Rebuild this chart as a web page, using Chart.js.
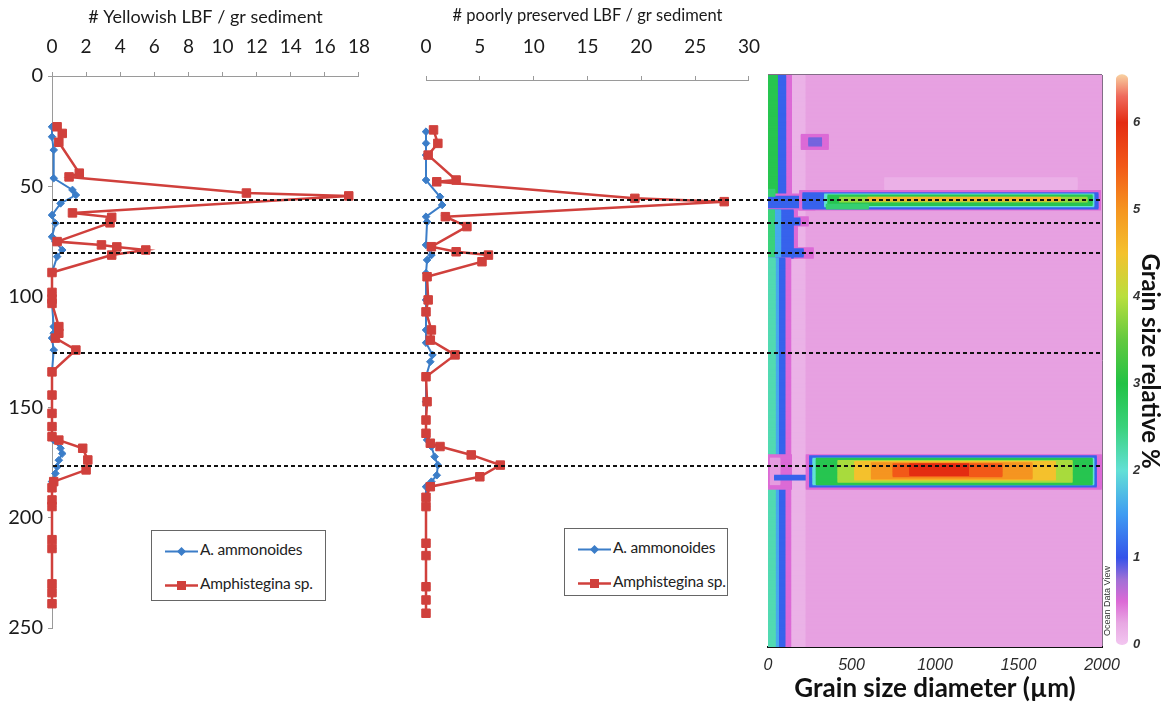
<!DOCTYPE html>
<html>
<head>
<meta charset="utf-8">
<script src="https://cdn.jsdelivr.net/npm/chart.js@4.4.1/dist/chart.umd.min.js"></script>
<style>
  html, body { margin: 0; padding: 0; background: #fff; }
  #page { position: relative; width: 1168px; height: 704px; overflow: hidden; background: #fff;
          font-family: Lato, "Liberation Sans", Arial, sans-serif; }
  #page canvas { position: absolute; top: 0; }
  .legend { position: absolute; border: 1px solid #666; background: #fff; color: #222; font-size: 15.5px; letter-spacing: -0.2px; }
  .legend .row { position: absolute; left: 13px; height: 24px; line-height: 24px; white-space: nowrap; }
  .legend svg { vertical-align: middle; margin-right: 2px; }
  #odv { position: absolute; left: 1067px; top: 596px; width: 80px; text-align: center; font: 9px "Liberation Sans", Arial, sans-serif;
         color: #333; transform: rotate(-90deg); }
</style>
</head>
<body>
<div id="page">
  <canvas id="yellowChart" width="384" height="704" style="left:0px"></canvas>
  <canvas id="poorChart" width="398" height="704" style="left:380px"></canvas>
  <canvas id="grainChart" width="428" height="704" style="left:740px"></canvas>
  <canvas id="scaleChart" width="68" height="704" style="left:1100px"></canvas>
  <canvas id="eventChart" width="1168" height="704" style="left:0px; pointer-events:none"></canvas>
  <div class="legend" id="yellowLegend" style="left:151px; top:530px; width:173px; height:69px;"></div>
  <div class="legend" id="poorLegend" style="left:564px; top:528px; width:162px; height:66px;"></div>
  <div id="odv">Ocean Data View</div>
</div>
<script>
// ---- # Yellowish LBF / gr sediment (left panel) ----
const yellowAmmDepth = [23, 27.5, 33.5, 46.3, 51.6, 53.9, 57.7, 63, 66.7, 72.8, 75, 78.8, 81.8, 89, 98, 101, 103, 113.5, 116.5, 118.7, 124.1, 134, 144.5, 152.8, 158.8, 163.4, 164.9, 168.6, 171, 174, 177, 180, 183.7, 186.5, 192, 195, 210, 214, 230, 234, 239];
const yellowAmmValue = [0, 0, 0.1, 0.1, 1.2, 1.4, 0.5, 0, 0.2, 0, 0.2, 0.6, 0.3, 0, 0, 0, 0, 0.1, 0.1, 0, 0.1, 0, 0, 0, 0, 0, 0.1, 0.5, 0.6, 0.4, 0.3, 0.2, 0, 0, 0, 0, 0, 0, 0, 0, 0];
const yellowAmphDepth = [23, 26, 30, 44, 45.7, 53, 54.3, 62, 64, 66.5, 75, 76.5, 77.4, 78.8, 81.1, 89, 98, 101, 103, 113.5, 116.5, 118.7, 124.1, 134, 144.5, 152.8, 158.8, 163.4, 164.9, 168.6, 173.9, 178.4, 183.7, 186.5, 192, 195, 210, 214, 230, 234, 239];
const yellowAmphValue = [0.3, 0.6, 0.4, 1.6, 1.0, 11.4, 17.4, 1.2, 3.5, 3.4, 0.3, 2.9, 3.8, 5.5, 3.5, 0, 0, 0, 0, 0.4, 0.4, 0.2, 1.4, 0, 0, 0, 0, 0, 0.4, 1.8, 2.1, 2.0, 0.1, 0, 0, 0, 0, 0, 0, 0, 0];

// ---- # poorly preserved LBF / gr sediment (middle panel) ----
const poorAmmDepth = [23.4, 28.7, 34, 45.3, 52.9, 56.6, 61.9, 64.2, 74.7, 79.3, 81.5, 87.5, 99.6, 105, 113.2, 119, 124.5, 127.6, 134.4, 145.7, 154, 160, 163, 166, 170.6, 174.4, 179, 181.9, 184.2, 189, 193.2, 209.8, 215.4, 229.5, 235.5, 241.5];
const poorAmmValue = [0, 0, 0, 0, 1.3, 1.5, 0, 0.1, 0, 0.5, 0.1, 0, 0, 0, 0, 0, 0.6, 0.4, 0, 0, 0, 0, 0.1, 0.5, 0.8, 1.1, 1.0, 0.5, 0, 0, 0, 0, 0, 0, 0, 0];
const poorAmphDepth = [22.6, 28.7, 34, 45.3, 46.1, 53.6, 55.1, 61.9, 66.4, 75.5, 77.8, 79.3, 82.3, 89.1, 99.6, 105, 113.2, 117.8, 124.5, 134.4, 145.7, 154, 160, 164.5, 166, 169.8, 174.4, 179.7, 184.2, 189, 193.2, 209.8, 215.4, 229.5, 235.5, 241.5];
const poorAmphValue = [0.7, 1.1, 0.2, 2.8, 1.0, 19.4, 27.7, 1.8, 3.8, 0.5, 2.8, 5.8, 5.2, 0.1, 0.2, 0, 0.5, 0.4, 2.7, 0, 0.1, 0, 0, 0.4, 1.3, 4.2, 6.9, 5.0, 0.4, 0, 0, 0, 0, 0, 0, 0];

// event horizons (dashed lines across all panels)
const eventDepths = [56.2, 66.6, 80.2, 125.5, 176.6];

// grain size grid: [depth from, depth to, diameter from, diameter to, relative %]
const grainPatches = [
  [0, 250, 0, 2000, 0.28],
  [0, 250, 135, 220, 0.17],
  [45, 50, 700, 1850, 0.18],
  [0, 52, 0, 140, 0.5],
  [0, 52, 0, 105, 1.1],
  [0, 52, 0, 55, 2.9],
  [26, 32.5, 200, 360, 0.5],
  [27.5, 31, 245, 320, 0.85],
  [52, 59, 0, 280, 0.5],
  [53, 58, 0, 250, 1.1],
  [50, 53, 0, 40, 2.6],
  [50.5, 59.2, 190, 1990, 0.5],
  [51.3, 58.5, 210, 1975, 1.1],
  [52.2, 57.5, 340, 1950, 2.0],
  [52.6, 57, 360, 1940, 2.9],
  [56.5, 58.3, 350, 600, 2.6],
  [53.3, 55.6, 430, 1910, 3.8],
  [53.6, 55.2, 600, 1750, 4.6],
  [59, 80, 0, 175, 0.5],
  [62, 66, 0, 240, 0.5],
  [75.5, 80, 0, 270, 0.5],
  [59, 80, 0, 150, 1.1],
  [62.5, 65.5, 0, 190, 1.1],
  [76, 79.5, 0, 210, 1.1],
  [59, 80, 0, 75, 1.6],
  [59, 80, 0, 38, 2.5],
  [80, 250, 0, 135, 0.5],
  [80, 250, 0, 100, 1.1],
  [80, 250, 0, 62, 1.6],
  [80, 250, 0, 42, 2.2],
  [166, 181, 0, 140, 0.5],
  [167.5, 179, 15, 70, 0.3],
  [175, 177, 40, 300, 1.1],
  [165.8, 181.1, 230, 1995, 0.5],
  [166.7, 180.2, 250, 1965, 1.1],
  [167.3, 179.2, 270, 1950, 2.0],
  [167.6, 178.8, 290, 1940, 2.9],
  [168.6, 177.8, 420, 1820, 3.9],
  [169.0, 177.2, 520, 1720, 4.5],
  [169.3, 176.3, 620, 1580, 5.0],
  [169.8, 175.4, 750, 1400, 5.5],
  [170.2, 174.8, 850, 1200, 6.0]
];

// colour scale of the grain size grid
const relStops = [
  [0.0, '#f2c6f0'], [0.25, '#e8a8e3'], [0.5, '#dc6ad6'], [0.75, '#a070d6'], [1.0, '#3553ea'],
  [1.5, '#3f9cf2'], [2.0, '#62e0d6'], [2.5, '#3ad27c'], [3.0, '#22c245'], [3.5, '#62c93f'],
  [4.0, '#b9df3d'], [4.5, '#f4c12d'], [5.0, '#f59520'], [5.5, '#f25918'], [6.0, '#e42c12'],
  [6.3, '#ef6a5c'], [6.55, '#f8d0a0']
];
const relTicks = [0, 1, 2, 3, 4, 5, 6];

const BLUE = '#3b7dc8';
const RED = '#d0403c';
const TXT_FONT = 'Lato, "Liberation Sans", Arial, sans-serif';
const ODV_FONT = '"Liberation Sans", Arial, sans-serif';
Chart.defaults.color = '#111';
Chart.defaults.font.family = TXT_FONT;

const pts = (depths, values) => depths.map((d, i) => ({ x: values[i], y: d }));

function seriesSets(ammD, ammV, amphD, amphV) {
    return [
        { label: 'A. ammonoides', data: pts(ammD, ammV), showLine: true, borderColor: BLUE, backgroundColor: BLUE,
          borderWidth: 2, pointStyle: 'rectRot', pointRadius: 3.8, pointBorderWidth: 1, clip: false, order: 1 },
        { label: 'Amphistegina sp.', data: pts(amphD, amphV), showLine: true, borderColor: RED, backgroundColor: RED,
          borderWidth: 2.5, pointStyle: 'rect', pointRadius: 6, pointBorderWidth: 1, clip: false, order: 0 }
    ];
}

// the right edge of each profile comes from half the last tick label plus its padding
function profileOptions(title, titleSize, xmax, step, axisTop, pad, tickPad, yWidth) {
    return {
        responsive: false,
        animation: false,
        layout: { padding: pad },
        plugins: { legend: { display: false }, tooltip: { enabled: false } },
        scales: {
            x: {
                type: 'linear', position: 'top', min: 0, max: xmax,
                ticks: { stepSize: step, padding: tickPad, font: { size: 19 }, color: '#1a1a1a' },
                grid: { drawOnChartArea: false, tickLength: 4, color: '#9a9a9a' },
                border: { color: '#9a9a9a' },
                title: { display: true, text: title, padding: { top: 6, bottom: 0 },
                         font: { size: titleSize }, color: '#1a1a1a' },
                afterFit: s => { s.height = axisTop; }
            },
            y: {
                type: 'linear', min: 0, max: 250, reverse: true, display: yWidth > 0,
                ticks: { stepSize: 50, padding: 5, font: { size: 20 }, color: '#1a1a1a' },
                grid: { drawOnChartArea: false, tickLength: 4, color: '#9a9a9a' },
                border: { color: '#9a9a9a' },
                afterFit: s => { s.width = yWidth; }
            }
        }
    };
}

const yellowChart = new Chart(document.getElementById('yellowChart'), {
    type: 'scatter',
    data: { datasets: seriesSets(yellowAmmDepth, yellowAmmValue, yellowAmphDepth, yellowAmphValue) },
    options: profileOptions('# Yellowish LBF / gr sediment', 18, 18, 2, 76, { left: 0, right: 0, top: 0, bottom: 76 }, 14, 52)
});

const poorChart = new Chart(document.getElementById('poorChart'), {
    type: 'scatter',
    data: { datasets: seriesSets(poorAmmDepth, poorAmmValue, poorAmphDepth, poorAmphValue) },
    options: profileOptions('# poorly preserved LBF / gr sediment', 16.5, 30, 5, 80, { left: 46, right: 0, top: 0, bottom: 72 }, 18, 0)
});

// colour lookup for the grid values
function hexRgb(h) {
    return [1, 3, 5].map(i => parseInt(h.slice(i, i + 2), 16));
}
function relColor(v) {
    for (let i = 1; i < relStops.length; i++) {
        if (v <= relStops[i][0]) {
            const [v0, c0] = relStops[i - 1];
            const [v1, c1] = relStops[i];
            const t = (v - v0) / (v1 - v0);
            const a = hexRgb(c0), b = hexRgb(c1);
            return 'rgb(' + a.map((x, k) => Math.round(x + (b[k] - x) * t)).join(',') + ')';
        }
    }
    return relStops[relStops.length - 1][1];
}

// depth rows of the grid (0.5 step)
const heatRows = Array.from({ length: 500 }, (_, i) => (i + 0.5) * 0.5);

const grainChart = new Chart(document.getElementById('grainChart'), {
    type: 'bar',
    data: {
        labels: heatRows,
        datasets: grainPatches.map((p, i) => ({
            data: heatRows.map(d => (d >= p[0] && d < p[1]) ? [p[2], p[3]] : null),
            backgroundColor: relColor(p[4]),
            borderWidth: 0,
            inflateAmount: 0.6,
            barPercentage: 1,
            categoryPercentage: 1,
            grouped: false,
            order: grainPatches.length - i
        }))
    },
    options: {
        indexAxis: 'y',
        responsive: false,
        animation: false,
        layout: { padding: { left: 28, right: 66, top: 75, bottom: 0 } },
        plugins: { legend: { display: false }, tooltip: { enabled: false } },
        scales: {
            x: {
                type: 'linear', position: 'bottom', min: 0, max: 2000, z: 1,
                ticks: { stepSize: 500, padding: 9, callback: v => String(v),
                         font: { family: ODV_FONT, size: 16, style: 'italic' }, color: '#2a2a2a' },
                grid: { color: c => c.tick && c.tick.value === 0 ? 'rgba(0,0,0,0)' : 'rgba(90,60,95,0.75)', drawTicks: false },
                border: { color: '#111', width: 2 },
                title: { display: true, text: 'Grain size diameter (µm)', padding: { top: 0, bottom: 0 },
                         font: { size: 26, weight: 'bold' }, color: '#111' },
                afterFit: s => { s.height = 57; }
            },
            y: { type: 'category', display: false },
            yd: {
                type: 'linear', position: 'left', min: 0, max: 250, reverse: true, z: 1,
                ticks: { display: false, stepSize: 50 },
                grid: { color: 'rgba(90,60,95,0.75)', drawTicks: false },
                border: { display: false },
                afterFit: s => { s.width = 0; }
            }
        }
    }
});

const relMax = relStops[relStops.length - 1][0];
const scaleChart = new Chart(document.getElementById('scaleChart'), {
    type: 'bar',
    data: {
        labels: [''],
        datasets: [{
            data: [[0, relMax]],
            backgroundColor: c => {
                const chart = c.chart;
                const y = chart.scales.y;
                if (!chart.chartArea || !y) return relStops[0][1];
                const g = chart.ctx.createLinearGradient(0, y.getPixelForValue(0), 0, y.getPixelForValue(relMax));
                relStops.forEach(([v, col]) => g.addColorStop(v / relMax, col));
                return g;
            },
            borderWidth: 0,
            borderRadius: 6,
            borderSkipped: false,
            barPercentage: 1,
            categoryPercentage: 1
        }]
    },
    options: {
        responsive: false,
        animation: false,
        layout: { padding: { left: 16, right: 0, top: 72, bottom: 54 } },
        plugins: { legend: { display: false }, tooltip: { enabled: false } },
        scales: {
            x: { display: false },
            y: {
                position: 'right', min: -0.06, max: relMax + 0.03,
                afterBuildTicks: s => { s.ticks = relTicks.map(v => ({ value: v })); },
                ticks: { padding: 5, font: { family: ODV_FONT, size: 13, style: 'italic', weight: 'bold' }, color: '#333' },
                grid: { display: false, drawTicks: false },
                border: { display: false },
                title: { display: true, text: 'Grain size relative %', padding: { top: 4, bottom: 0 },
                         font: { size: 24, weight: 'bold' }, color: '#111' },
                afterFit: s => { s.width = 40; }
            }
        }
    }
});

// dashed event lines spanning every panel, on the depth scale of the profiles
const eventChart = new Chart(document.getElementById('eventChart'), {
    type: 'scatter',
    data: {
        datasets: eventDepths.map(d => ({
            data: [{ x: 0, y: d }, { x: 1, y: d }],
            showLine: true, borderColor: '#111', borderWidth: 2, borderDash: [4, 3], pointRadius: 0
        }))
    },
    options: {
        responsive: false,
        animation: false,
        layout: { padding: { left: 53, right: 66, top: 76, bottom: 76 } },
        plugins: { legend: { display: false }, tooltip: { enabled: false } },
        scales: {
            x: { display: false, min: 0, max: 1 },
            y: { display: false, min: 0, max: 250, reverse: true }
        }
    }
});

// legends in the style of the original boxes
function buildLegend(el, chart) {
    chart.data.datasets.forEach((ds, i) => {
        const c = ds.borderColor;
        const mark = ds.pointStyle === 'rect'
            ? `<rect x="12" y="3" width="9" height="9" fill="${c}"/>`
            : `<polygon points="16.5,3 21,7.5 16.5,12 12,7.5" fill="${c}"/>`;
        const row = document.createElement('div');
        row.className = 'row';
        row.style.top = (6 + i * 34) + 'px';
        row.innerHTML = `<svg width="33" height="15"><line x1="0" y1="7.5" x2="33" y2="7.5" stroke="${c}" stroke-width="${ds.borderWidth}"/>${mark}</svg><span>${ds.label}</span>`;
        el.appendChild(row);
    });
}
buildLegend(document.getElementById('yellowLegend'), yellowChart);
buildLegend(document.getElementById('poorLegend'), poorChart);
</script>
</body>
</html>
